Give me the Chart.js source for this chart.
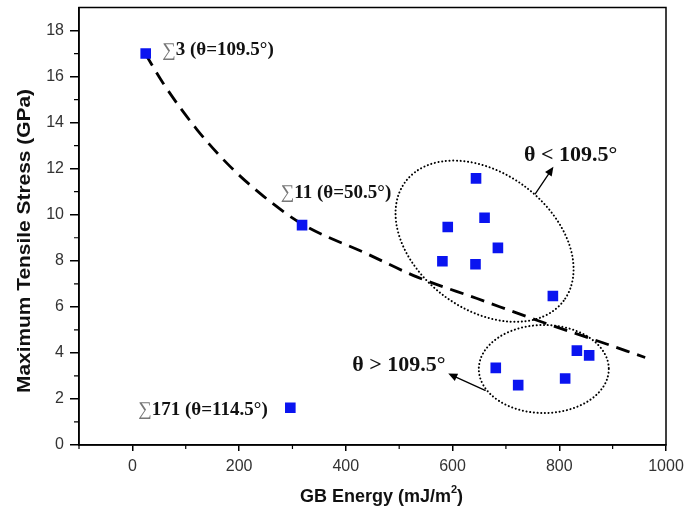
<!DOCTYPE html>
<html>
<head>
<meta charset="utf-8">
<script src="https://cdn.jsdelivr.net/npm/chart.js@4"></script>
<style>
  html, body { margin: 0; padding: 0; background: #fff; }
  #wrap { width: 686px; height: 517px; }
</style>
</head>
<body>
<div id="wrap"><canvas id="myChart"></canvas></div>
<script>
// measured points: GB energy (mJ/m2) vs max tensile stress (GPa)
let energy = [25, 318, 296, 644, 660, 591, 685, 581, 643, 788, 833, 856, 681, 723, 811];
let stress = [17.0, 9.55, 1.62, 11.58, 9.87, 9.47, 8.56, 7.98, 7.85, 6.47, 4.10, 3.89, 3.35, 2.60, 2.89];

// dashed trend line
let fitEnergy = [24, 58, 121, 183, 246, 318, 440, 533, 646, 758, 858, 961];
let fitStress = [17.0, 15.7, 13.7, 12.1, 10.8, 9.6, 8.3, 7.3, 6.36, 5.42, 4.63, 3.8];

let xTicks = [0, 200, 400, 600, 800, 1000];
let yTicks = [0, 2, 4, 6, 8, 10, 12, 14, 16, 18];
let xMinor = [-100, 100, 300, 500, 700, 900];
let yMinor = [1, 3, 5, 7, 9, 11, 13, 15, 17];

// point labels: [sigma part, rest, x, y]
let pointLabels = [
  ['\u2211', '3 (\u03b8=109.5\u00b0)', 56, 17.13],
  ['\u2211', '11 (\u03b8=50.5\u00b0)', 278, 10.93],
  ['\u2211', '171 (\u03b8=114.5\u00b0)', 11, 1.52]
];
let groupLabels = [
  ['\u03b8 < 109.5\u00b0', 734, 12.58],
  ['\u03b8 > 109.5\u00b0', 412, 3.47]
];

let fitLine = fitEnergy.map((x, i) => ({x: x, y: fitStress[i]}));
let points = energy.map((x, i) => ({x: x, y: stress[i]}));

let annotate = {
  id: 'annotate',
  afterDatasetsDraw(chart) {
    let c = chart.ctx;
    let xs = chart.scales.x, ys = chart.scales.y;
    let a = chart.chartArea;
    c.save();

    // frame
    c.strokeStyle = '#000';
    c.lineWidth = 1.5;
    c.strokeRect(a.left, a.top, a.right - a.left, a.bottom - a.top);

    // minor ticks
    c.lineWidth = 1.2;
    c.beginPath();
    xMinor.forEach(v => {
      let px = xs.getPixelForValue(v);
      c.moveTo(px, a.bottom); c.lineTo(px, a.bottom + 4);
    });
    yMinor.forEach(v => {
      let py = ys.getPixelForValue(v);
      c.moveTo(a.left, py); c.lineTo(a.left - 5, py);
    });
    c.stroke();

    // dotted group ellipses
    c.lineWidth = 2;
    c.lineCap = 'round';
    c.setLineDash([0.1, 3.6]);
    c.beginPath();
    c.ellipse(xs.getPixelForValue(660), ys.getPixelForValue(8.85), 99, 68, 37 * Math.PI / 180, 0, Math.PI * 2);
    c.stroke();
    c.beginPath();
    c.ellipse(xs.getPixelForValue(771), ys.getPixelForValue(3.3), 65, 44, 0, 0, Math.PI * 2);
    c.stroke();
    c.setLineDash([]);

    // arrows
    let arrow = (x1, y1, x2, y2) => {
      let p1x = xs.getPixelForValue(x1), p1y = ys.getPixelForValue(y1);
      let p2x = xs.getPixelForValue(x2), p2y = ys.getPixelForValue(y2);
      let ang = Math.atan2(p2y - p1y, p2x - p1x);
      c.lineWidth = 1.3;
      c.beginPath();
      c.moveTo(p1x, p1y); c.lineTo(p2x - 6 * Math.cos(ang), p2y - 6 * Math.sin(ang));
      c.stroke();
      c.beginPath();
      c.moveTo(p2x, p2y);
      c.lineTo(p2x - 9 * Math.cos(ang) + 4 * Math.sin(ang), p2y - 9 * Math.sin(ang) - 4 * Math.cos(ang));
      c.lineTo(p2x - 9 * Math.cos(ang) - 4 * Math.sin(ang), p2y - 9 * Math.sin(ang) + 4 * Math.cos(ang));
      c.closePath();
      c.fillStyle = '#000';
      c.fill();
    };
    arrow(755, 10.91, 789, 12.08);
    arrow(661, 2.37, 592, 3.1);

    // labels
    c.textBaseline = 'middle';
    c.textAlign = 'left';
    pointLabels.forEach(l => {
      let px = xs.getPixelForValue(l[2]), py = ys.getPixelForValue(l[3]);
      c.font = '19px "Liberation Serif"';
      c.fillStyle = '#777';
      c.fillText(l[0], px, py);
      let w = c.measureText(l[0]).width;
      c.font = 'bold 19px "Liberation Serif"';
      c.fillStyle = '#111';
      c.fillText(l[1], px + w, py);
    });
    c.font = 'bold 22px "Liberation Serif"';
    c.fillStyle = '#111';
    groupLabels.forEach(l => {
      c.fillText(l[0], xs.getPixelForValue(l[1]), ys.getPixelForValue(l[2]));
    });

    // axis titles
    c.fillStyle = '#111';
    c.font = 'bold 18px "Liberation Sans", Arial';
    let t1 = 'GB Energy (mJ/m', t2 = '2', t3 = ')';
    let w1 = c.measureText(t1).width, w3 = c.measureText(t3).width;
    c.font = 'bold 11px "Liberation Sans", Arial';
    let w2 = c.measureText(t2).width;
    let sx = 381.5 - (w1 + w2 + w3) / 2;
    c.font = 'bold 18px "Liberation Sans", Arial';
    c.fillText(t1, sx, 497);
    c.fillText(t3, sx + w1 + w2, 497);
    c.font = 'bold 11px "Liberation Sans", Arial';
    c.fillText(t2, sx + w1, 490);

    c.translate(25, 241);
    c.rotate(-Math.PI / 2);
    c.scale(1.1, 1);
    c.textAlign = 'center';
    c.font = 'bold 19px "Liberation Sans", Arial';
    c.fillText('Maximum Tensile Stress (GPa)', 0, 0);
    c.restore();
  }
};

let ctx = document.getElementById('myChart').getContext('2d');
let myChart = new Chart(ctx, {
  type: 'scatter',
  data: {
    datasets: [{
      data: points,
      pointStyle: 'rect',
      pointRadius: 7.5,
      backgroundColor: '#0a14f0',
      borderColor: '#0a14f0',
      borderWidth: 0,
      order: 0
    }, {
      type: 'line',
      data: fitLine,
      showLine: true,
      borderColor: '#000',
      borderWidth: 2.8,
      borderDash: [14, 8],
      pointRadius: 0,
      cubicInterpolationMode: 'monotone',
      fill: false,
      order: 1
    }]
  },
  options: {
    responsive: true,
    maintainAspectRatio: false,
    animation: false,
    layout: { padding: { top: 7, right: 20, left: 0, bottom: 0 } },
    plugins: {
      legend: { display: false },
      tooltip: { enabled: false }
    },
    scales: {
      x: {
        type: 'linear',
        min: -100,
        max: 1000,
        afterBuildTicks: (s) => { s.ticks = xTicks.map(v => ({value: v})); },
        afterFit: (s) => { s.height = 72; s.paddingLeft = 0; s.paddingRight = 0; },
        grid: { drawOnChartArea: false, drawTicks: true, tickLength: 6, color: '#000', lineWidth: 1.5 },
        border: { display: true, color: '#000', width: 1.5 },
        ticks: {
          padding: 6,
          color: '#333',
          font: { family: '"Liberation Sans", Arial', size: 16 },
          callback: (v) => String(v)
        }
      },
      y: {
        type: 'linear',
        min: 0,
        max: 19,
        afterBuildTicks: (s) => { s.ticks = yTicks.map(v => ({value: v})); },
        afterFit: (s) => { s.width = 79; s.paddingTop = 0; s.paddingBottom = 0; },
        grid: { drawOnChartArea: false, drawTicks: true, tickLength: 9, color: '#000', lineWidth: 1.5 },
        border: { display: true, color: '#000', width: 1.5 },
        ticks: {
          padding: 6,
          color: '#333',
          font: { family: '"Liberation Sans", Arial', size: 16 },
          callback: (v) => String(v)
        }
      }
    }
  },
  plugins: [annotate]
});
</script>
</body>
</html>
